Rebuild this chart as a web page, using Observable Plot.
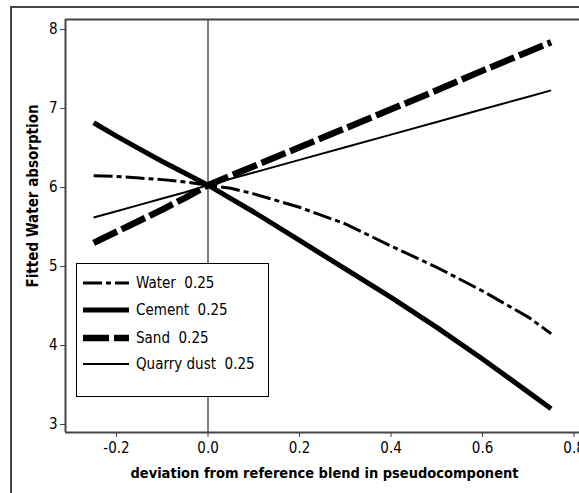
<!DOCTYPE html>
<html>
<head>
<meta charset="utf-8">
<script src="https://cdn.jsdelivr.net/npm/d3@7"></script>
<script src="https://cdn.jsdelivr.net/npm/@observablehq/plot@0.6"></script>
<style>
  html, body { margin: 0; padding: 0; background: #fff; overflow: hidden; }
  #wrap { position: relative; width: 579px; height: 493px; overflow: hidden; }
  #outer { position: absolute; left: 10px; top: 6px; width: 700px; height: 700px;
           border-left: 2px solid #444; border-top: 2px solid #444; pointer-events: none; }
  #chart { position: absolute; left: 0; top: 0; }
  #chart svg text { font-family: "DejaVu Sans Condensed", "DejaVu Sans", sans-serif; font-stretch: condensed; }
  #legend { position: absolute; left: 76px; top: 263px; width: 193px; height: 134px;
            border: 1px solid #000; background: #fff; box-sizing: border-box;
            font-family: "DejaVu Sans Condensed", "DejaVu Sans", sans-serif; font-stretch: condensed;
            font-size: 15px; color: #000; }
  .item { position: absolute; left: 6px; height: 22px; display: flex; align-items: center; white-space: pre; }
  .item svg { margin-right: 7px; }
</style>
</head>
<body>
<div id="wrap">
  <div id="chart"></div>
  <div id="outer"></div>
  <div id="legend"></div>
</div>
<script>
// ---- data ----
const xGrid = [-0.25, -0.2, -0.15, -0.1, -0.05, 0, 0.05, 0.1, 0.2, 0.3, 0.4, 0.5, 0.6, 0.7, 0.75];
const water  = [6.15, 6.14, 6.12, 6.10, 6.07, 6.03, 5.99, 5.92, 5.75, 5.54, 5.26, 4.99, 4.69, 4.36, 4.15];
const cement = [6.82, 6.65, 6.49, 6.33, 6.18, 6.03, 5.86, 5.69, 5.33, 4.97, 4.61, 4.23, 3.83, 3.41, 3.20];
const sand   = [5.30, 5.44, 5.58, 5.72, 5.87, 6.03, 6.15, 6.27, 6.51, 6.75, 6.99, 7.23, 7.48, 7.72, 7.84];
const quarry = [5.62, 5.70, 5.78, 5.86, 5.94, 6.03, 6.11, 6.19, 6.35, 6.51, 6.67, 6.83, 6.99, 7.15, 7.23];
const seriesNames = ["Water", "Cement", "Sand", "Quarry dust"];
const seriesLevel = ["0.25", "0.25", "0.25", "0.25"];
const xTicks = [-0.2, 0.0, 0.2, 0.4, 0.6, 0.8];
const yTicks = [3, 4, 5, 6, 7, 8];
const xTitle = "deviation from reference blend in pseudocomponent";
const yTitle = "Fitted Water absorption";

// ---- styles (kept apart from the data) ----
const styles = {
  "Water":       {strokeWidth: 3,   dash: "19,4,5,4"},
  "Cement":      {strokeWidth: 5,   dash: null},
  "Sand":        {strokeWidth: 6.5, dash: "26,5"},
  "Quarry dust": {strokeWidth: 2,   dash: null}
};

const valuesBySeries = [water, cement, sand, quarry];
const rows = [];
seriesNames.forEach((name, i) => {
  xGrid.forEach((x, j) => rows.push({series: name, x, y: valuesBySeries[i][j]}));
});

const xDomain = [-0.3115, 0.812];
const yDomain = [2.899, 8.127];

const lineMarks = seriesNames.map(name => Plot.line(rows.filter(d => d.series === name), {
  x: "x", y: "y", stroke: "#000",
  strokeWidth: styles[name].strokeWidth,
  strokeDasharray: styles[name].dash || undefined,
  strokeLinecap: "butt", strokeLinejoin: "round"
}));

const chart = Plot.plot({
  width: 579, height: 493,
  marginLeft: 65, marginRight: 0, marginTop: 19, marginBottom: 61,
  style: {background: "transparent", color: "#000"},
  x: {domain: xDomain},
  y: {domain: yDomain},
  marks: [
    Plot.ruleX([0], {stroke: "#000", strokeWidth: 1}),
    ...lineMarks,
    Plot.ruleY([yDomain[1]], {stroke: "#444", strokeWidth: 2}),
    Plot.ruleY([yDomain[0]], {stroke: "#444", strokeWidth: 2}),
    Plot.ruleX([xDomain[0]], {stroke: "#444", strokeWidth: 2}),
    Plot.axisX({ticks: xTicks, tickFormat: d => d.toFixed(1), tickSize: 5, tickPadding: 5,
                fontSize: 15, label: null, stroke: "#444"}),
    Plot.axisY({ticks: yTicks, tickFormat: d => String(d), tickSize: 5, tickPadding: 3,
                fontSize: 15, label: null, stroke: "#444"}),
    Plot.text([xTitle], {text: d => d, frameAnchor: "bottom", dx: 2, dy: 41,
                         fontSize: 14.5, fontWeight: "bold", textAnchor: "middle", lineAnchor: "middle"}),
    Plot.text([yTitle], {text: d => d, frameAnchor: "left", rotate: -90, dx: -32, dy: -30,
                         fontSize: 15, fontWeight: "bold", textAnchor: "middle", lineAnchor: "middle"})
  ]
});
document.getElementById("chart").appendChild(chart);

// ---- legend ----
const legend = d3.select("#legend");
const itemTops = [8, 35, 63, 89];
seriesNames.forEach((name, i) => {
  const item = legend.append("div").attr("class", "item").style("top", itemTops[i] + "px");
  const s = item.append("svg").attr("width", 46).attr("height", 10);
  s.append("line").attr("x1", 0).attr("x2", 46).attr("y1", 5).attr("y2", 5)
    .attr("stroke", "#000").attr("stroke-width", styles[name].strokeWidth)
    .attr("stroke-dasharray", styles[name].dash);
  item.append("span").text(name + "  " + seriesLevel[i]);
});
</script>
</body>
</html>
